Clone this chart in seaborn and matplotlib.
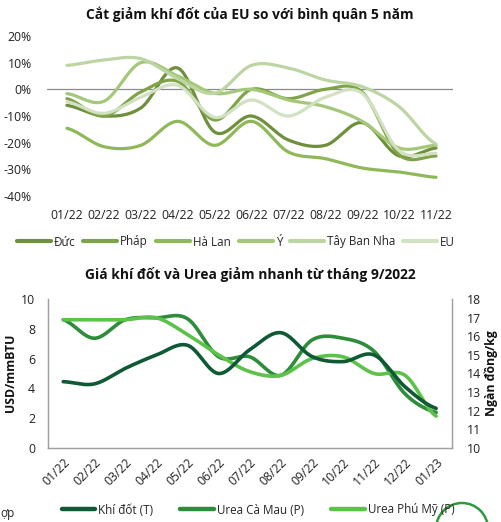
import matplotlib
matplotlib.use("Agg")
import matplotlib.pyplot as plt
from matplotlib.lines import Line2D
from matplotlib.patches import Ellipse
import numpy as np
import pandas as pd
import seaborn as sns

# ---- data: top chart (% vs 5-year average) ----
months_eu = ["01/22", "02/22", "03/22", "04/22", "05/22", "06/22",
             "07/22", "08/22", "09/22", "10/22", "11/22"]
duc = [-6, -10, -7, 8, -16, -10, -19, -21, -12.5, -25, -22]
phap = [-3.5, -10, -1, 3, -11.5, 0, -3.5, 0, -1, -24.5, -25]
ha_lan = [-14.6, -21.5, -21, -12, -21, -12, -23.5, -26, -29.5, -31, -33]
y_it = [-1.6, -4.5, 10, 5, -1.5, 0, -4, -6.5, -12, -22, -21]
tay_ban_nha = [9, 11, 11.5, 4, -1.5, 9, 8, 3.5, 1, -6.5, -20.5]
eu = [-4.7, -9, -3, 1.5, -10.5, -4, -10, -3, -1.5, -23, -24]

# ---- data: bottom chart ----
months_gas = ["01/22", "02/22", "03/22", "04/22", "05/22", "06/22", "07/22",
              "08/22", "09/22", "10/22", "11/22", "12/22", "01/23"]
khi_dot = [4.45, 4.3, 5.35, 6.25, 6.9, 5.0, 6.6, 7.75, 6.15, 5.8, 6.25, 4.1, 2.65]
urea_ca_mau = [16.9, 15.9, 16.9, 17.0, 16.95, 14.9, 14.9, 13.9, 15.8, 15.9, 15.2, 12.9, 11.9]
urea_phu_my = [16.9, 16.9, 16.9, 17.0, 16.1, 15.0, 14.1, 13.9, 14.8, 14.9, 14.0, 13.9, 11.7]


def smooth(vals, n=30):
    # Catmull-Rom curve through the points, like Excel's "smoothed line"
    p = np.asarray(vals, dtype=float)
    xs, ys = [], []
    m = len(p)
    for i in range(m - 1):
        p0 = p[i - 1] if i > 0 else p[i]
        p1, p2 = p[i], p[i + 1]
        p3 = p[i + 2] if i + 2 < m else p[i + 1]
        t = np.linspace(0, 1, n, endpoint=False)
        y = 0.5 * ((2 * p1) + (-p0 + p2) * t + (2 * p0 - 5 * p1 + 4 * p2 - p3) * t ** 2
                   + (-p0 + 3 * p1 - 3 * p2 + p3) * t ** 3)
        xs.extend(i + t)
        ys.extend(y)
    xs.append(m - 1)
    ys.append(p[-1])
    return pd.DataFrame({"x": xs, "y": ys})


sns.set_theme(style="white")
plt.rcParams['font.family'] = ['Open Sans', 'DejaVu Sans']

W, H = 501, 522
FS = 8.8
FS_LEG = 8.4
fig = plt.figure(figsize=(W / 100, H / 100), dpi=100)


def fx(px):
    return px / W


def fy(py):
    return 1 - py / H


# ================= top chart =================
ax1 = fig.add_axes([fx(47), fy(196), fx(406), fy(36) - fy(196)])
top_series = [("Đức", duc, "#6e8f3b"), ("Pháp", phap, "#7fa448"),
              ("Hà Lan", ha_lan, "#8fb859"), ("Ý", y_it, "#a4c779"),
              ("Tây Ban Nha", tay_ban_nha, "#bcd5a2"), ("EU", eu, "#d2e1c2")]
ax1.axhline(0, color="#8a8a8a", lw=0.9, zorder=1)
for name, vals, col in top_series:
    sns.lineplot(data=smooth(vals), x="x", y="y", ax=ax1, color=col, lw=2.3,
                 estimator=None, sort=False, zorder=2)
ax1.set_xlim(-0.54, 10.46)
ax1.set_ylim(-40, 20)
ax1.set_yticks(range(-40, 21, 10))
ax1.set_yticklabels([f"{v}%" for v in range(-40, 21, 10)])
ax1.set_xticks(range(len(months_eu)))
ax1.set_xticklabels(months_eu)
ax1.set_xlabel("")
ax1.set_ylabel("")
ax1.tick_params(axis="both", length=0, labelsize=FS, colors="#222222")
ax1.tick_params(axis="y", pad=11)
ax1.tick_params(axis="x", pad=9)
for s in ax1.spines.values():
    s.set_visible(False)

fig.text(fx(250), fy(14), "Cắt giảm khí đốt của EU so với bình quân 5 năm",
         ha="center", va="center", fontsize=9.9, fontweight="bold", color="#111111")

handles1 = [Line2D([], [], color=c, lw=3) for _, _, c in top_series]
fig.legend(handles1, [n for n, _, _ in top_series], loc="center",
           bbox_to_anchor=(fx(236), fy(242)), ncol=6, frameon=False,
           fontsize=FS_LEG, handlelength=2.9, handletextpad=0.25, columnspacing=0.7)

# ================= bottom chart =================
ax2 = fig.add_axes([fx(47.7), fy(447.7), fx(404), fy(299.3) - fy(447.7)])
ax3 = ax2.twinx()
n = len(months_gas)
sns.lineplot(data=smooth(khi_dot), x="x", y="y", ax=ax2, color="#0f5a34", lw=2.6,
             estimator=None, sort=False, zorder=3)
sns.lineplot(data=smooth(urea_ca_mau), x="x", y="y", ax=ax3, color="#2d8d3a", lw=2.6,
             estimator=None, sort=False)
sns.lineplot(data=smooth(urea_phu_my), x="x", y="y", ax=ax3, color="#5cc24a", lw=2.6,
             estimator=None, sort=False)
ax2.set_zorder(ax3.get_zorder() + 1)
ax2.patch.set_visible(False)

ax2.set_xlim(-0.5, n - 0.5)
ax2.set_ylim(0, 10)
ax3.set_ylim(10, 18)
ax2.set_yticks(range(0, 11, 2))
ax3.set_yticks(range(10, 19, 1))
ax2.set_xticks(np.arange(-0.5, n, 1.0))
ax2.set_xticklabels([])
ax2.set_xticks(range(n), minor=True)
ax2.set_xticklabels(months_gas, minor=True, rotation=45, ha="right",
                    rotation_mode="anchor")
ax2.tick_params(axis="x", which="major", length=4, color="#999999", direction="out")
ax2.tick_params(axis="x", which="minor", length=0, pad=6, labelsize=FS, colors="#222222")
ax2.tick_params(axis="y", length=0, pad=9, labelsize=FS, colors="#222222")
ax3.tick_params(axis="y", length=0, pad=11, labelsize=FS, colors="#222222")
for a in (ax2, ax3):
    a.set_xlabel("")
    a.set_ylabel("")
    a.spines["top"].set_visible(False)
    for side in ("left", "right", "bottom"):
        a.spines[side].set_color("#a0a0a0")
        a.spines[side].set_linewidth(0.9)

fig.text(fx(11), fy(373), "USD/mmBTU", rotation=90, ha="center", va="center",
         fontsize=FS, fontweight="bold", color="#111111")
fig.text(fx(491), fy(373), "Ngàn đồng/kg", rotation=90, ha="center", va="center",
         fontsize=FS, fontweight="bold", color="#111111")

fig.text(fx(250), fy(275), "Giá khí đốt và Urea giảm nhanh từ tháng 9/2022",
         ha="center", va="center", fontsize=9.9, fontweight="bold", color="#111111")

handles2 = [Line2D([], [], color=c, lw=3.2) for c in ("#0f5a34", "#2d8d3a", "#5cc24a")]
fig.legend(handles2, ["Khí đốt (T)", "Urea Cà Mau (P)", "Urea Phú Mỹ (P)"],
           loc="center", bbox_to_anchor=(fx(258), fy(510)), ncol=3, frameon=False,
           fontsize=FS_LEG, handlelength=2.9, handletextpad=0.25, columnspacing=2.3)

# cropped bits at the edges of the screenshot
fig.text(fx(0), fy(513), "ợp", ha="left", va="center", fontsize=FS_LEG, color="#222222")
fig.add_artist(Ellipse((fx(462), fy(529)), width=fx(52), height=52 / H,
                       transform=fig.transFigure, fill=False,
                       edgecolor="#2f9a3c", lw=1.8))

fig.savefig("out.png", dpi=100)
